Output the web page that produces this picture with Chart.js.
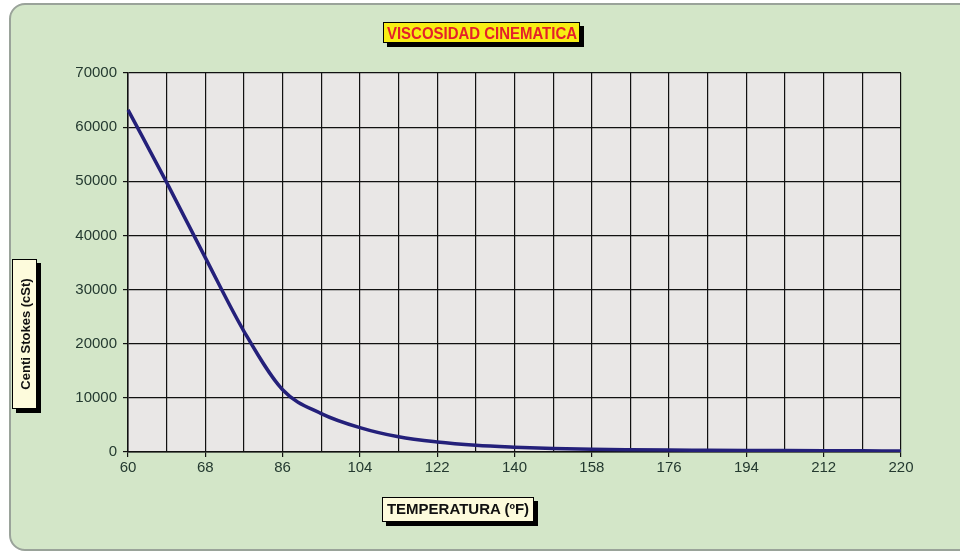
<!DOCTYPE html>
<html>
<head>
<meta charset="utf-8">
<script src="https://cdn.jsdelivr.net/npm/chart.js@4"></script>
<style>
  html, body { margin: 0; padding: 0; background: #fff; }
  #wrap { position: relative; width: 960px; height: 552px; overflow: hidden; }
  #frame {
    position: absolute; left: 9px; top: 3px; width: 980px; height: 544px;
    background: #d3e6c8; border: 2px solid #9aa39a; border-radius: 16px;
  }
  canvas { position: absolute; left: 0; top: 0; }
  .tag {
    position: absolute; font-family: "Liberation Sans", Arial, sans-serif; font-weight: bold;
    border: 1px solid #000; box-shadow: 4px 4px 0 #000; white-space: nowrap; line-height: 1;
  }
  #title {
    left: 383px; top: 22px; width: 195px; height: 19px; background: #f7ee14; color: #e5202a;
  }
  #title span {
    position: absolute; left: 50%; top: 50%; font-size: 17px;
    transform: translate(-50%, -50%) scaleX(0.88);
  }
  #xtitle {
    left: 382px; top: 497px; width: 150px; height: 20px; background: #fdfbdc; color: #111;
    font-size: 15px; text-align: center; padding-top: 3px;
  }
  #ytitle {
    left: 12px; top: 259px; width: 23px; height: 148px; background: #fdfbdc; color: #111;
  }
  #ytitle span {
    position: absolute; left: 50%; top: 50%; font-size: 13px;
    transform: translate(-50%, -50%) rotate(-90deg);
  }
</style>
</head>
<body>
<div id="wrap">
  <div id="frame"></div>
  <canvas id="chart" width="960" height="552"></canvas>
  <div class="tag" id="title"><span>VISCOSIDAD CINEMATICA</span></div>
  <div class="tag" id="ytitle"><span>Centi Stokes (cSt)</span></div>
  <div class="tag" id="xtitle">TEMPERATURA (ºF)</div>
</div>
<script>
// Temperatures (ºF); only every second one is labelled on the axis
const temperatures = ['60', '64', '68', '77', '86', '95', '104', '113', '122', '131', '140',
                      '149', '158', '167', '176', '185', '194', '203', '212', '216', '220'];
// Kinematic viscosity (cSt)
const viscosity = [63200, 49800, 35900, 22300, 11500, 7100, 4500, 2800, 1850, 1250, 900,
                   650, 500, 420, 370, 330, 290, 260, 230, 210, 190];
const yTicks = [0, 10000, 20000, 30000, 40000, 50000, 60000, 70000];

// plot background
const plotBg = {
    id: 'plotBg',
    beforeDraw(chart) {
        const a = chart.chartArea, ctx = chart.ctx;
        ctx.save();
        ctx.fillStyle = '#e9e7e6';
        ctx.fillRect(a.left, a.top, a.right - a.left, a.bottom - a.top);
        ctx.restore();
    }
};

new Chart(document.getElementById('chart'), {
    type: 'line',
    data: {
        labels: temperatures,
        datasets: [{
            label: 'Viscosidad',
            data: viscosity,
            borderColor: '#24207a',
            borderWidth: 3.5,
            pointRadius: 0,
            fill: false,
            cubicInterpolationMode: 'monotone'
        }]
    },
    options: {
        responsive: false,
        animation: false,
        layout: { padding: { left: 28, top: 73, right: 59, bottom: 0 } },
        plugins: { legend: { display: false }, tooltip: { enabled: false } },
        scales: {
            x: {
                offset: false,
                afterFit: s => { s.height = 100; },
                grid: {
                    color: '#111',
                    lineWidth: 1.2,
                    tickLength: 5,
                    tickColor: c => (c.index % 2 ? 'rgba(0,0,0,0)' : '#111')
                },
                border: { color: '#111', width: 1.5 },
                ticks: {
                    autoSkip: false, maxRotation: 0, padding: 2,
                    color: '#243a30',
                    font: { family: 'Liberation Sans, Arial, sans-serif', size: 15 },
                    callback: (v, i) => (i % 2 ? '' : temperatures[i])
                }
            },
            y: {
                min: yTicks[0], max: yTicks[yTicks.length - 1],
                afterFit: s => { s.width = 100; },
                afterBuildTicks: s => { s.ticks = yTicks.map(v => ({ value: v })); },
                grid: { color: '#111', lineWidth: 1.2, tickLength: 5 },
                border: { color: '#111', width: 1.5 },
                ticks: {
                    padding: 6,
                    color: '#243a30',
                    font: { family: 'Liberation Sans, Arial, sans-serif', size: 15 },
                    callback: v => String(v)
                }
            }
        }
    },
    plugins: [plotBg]
});
</script>
</body>
</html>
